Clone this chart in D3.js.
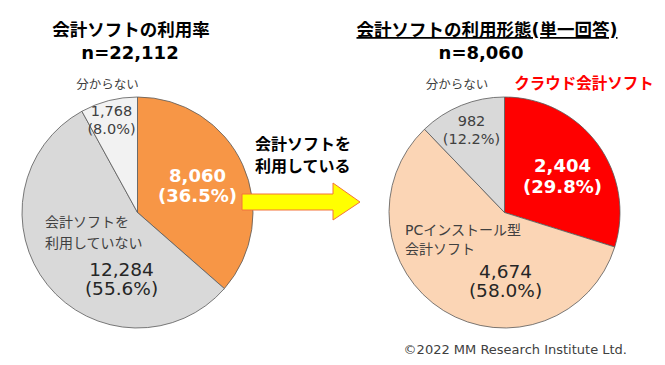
<!DOCTYPE html>
<html>
<head>
<meta charset="utf-8">
<script src="https://cdn.jsdelivr.net/npm/d3@7"></script>
<style>
  body { margin: 0; background: #fff; }
  svg text { font-family: "DejaVu Sans", "Noto Sans CJK JP", sans-serif; }
</style>
</head>
<body>
<svg id="chart" width="665" height="365"></svg>
<script>
// left pie: overall usage
var usageNames = ['利用している', '会計ソフトを利用していない', '分からない']
var usageValues = [8060, 12284, 1768]
var usageColors = ['#F79646', '#D9D9D9', '#F2F2F2']

// right pie: type of software used
var typeNames = ['クラウド会計ソフト', 'PCインストール型会計ソフト', '分からない']
var typeValues = [2404, 4674, 982]
var typeColors = ['#FF0000', '#FBD5B5', '#D9D9D9']

var svg = d3.select('#chart')

var pie = d3.pie().sort(null).value(d => d)
var radius = 115.5

function fmt(v, total) {
    return [d3.format(',')(v), '(' + d3.format('.1f')(v / total * 100) + '%)']
}

function drawPie(cx, cy, values, colors, labels) {
    var total = d3.sum(values)
    var g = svg.append('g')
        .attr('transform', 'translate(' + cx + ',' + cy + ')')
    var arc = d3.arc().innerRadius(0).outerRadius(radius)
    g.selectAll('path')
        .data(pie(values))
        .enter()
        .append('path')
        .attr('d', arc)
        .style('fill', (d, i) => colors[i])
        .style('stroke', '#595959')
        .style('stroke-width', 0.8)

    // value labels, placed per slice
    labels.forEach((l, i) => {
        var lines = fmt(values[i], total)
        lines.forEach((t, j) => {
            g.append('text')
                .attr('x', l.x)
                .attr('y', l.y + j * l.gap)
                .attr('text-anchor', 'middle')
                .style('font-size', l.size + 'px')
                .style('font-weight', l.bold ? 'bold' : 'normal')
                .style('fill', l.color)
                .text(t)
        })
    })
    return g
}

function addText(x, y, str, opts) {
    opts = opts || {}
    return svg.append('text')
        .attr('x', x)
        .attr('y', y)
        .attr('text-anchor', opts.anchor || 'start')
        .style('font-size', (opts.size || 14) + 'px')
        .style('font-weight', opts.bold ? 'bold' : 'normal')
        .style('fill', opts.color || '#262626')
        .text(str)
}

var lcx = 137.5, lcy = 212.5
var rcx = 504.5, rcy = 212.5

drawPie(lcx, lcy, usageValues, usageColors, [
    {x: 60, y: -31, gap: 20, size: 18, bold: true, color: '#fff'},
    {x: -16, y: 63, gap: 19, size: 18.5, bold: false, color: '#262626'},
    {x: -26, y: -97, gap: 18, size: 14.5, bold: false, color: '#404040'}
])

drawPie(rcx, rcy, typeValues, typeColors, [
    {x: 58, y: -41, gap: 21, size: 18, bold: true, color: '#fff'},
    {x: 1, y: 65, gap: 19, size: 18.5, bold: false, color: '#262626'},
    {x: -33, y: -87, gap: 18, size: 14.5, bold: false, color: '#404040'}
])

// category names
addText(lcx - 30, 89, '分からない', {anchor: 'middle', size: 12.5, color: '#404040'})
addText(45, 227, '会計ソフトを', {size: 14, color: '#404040'})
addText(45, 248, '利用していない', {size: 14, color: '#404040'})

addText(457, 89, '分からない', {anchor: 'middle', size: 12.5, color: '#404040'})
addText(584, 89, 'クラウド会計ソフト', {anchor: 'middle', size: 15.5, bold: true, color: '#FF0000'})
addText(405, 235, 'PCインストール型', {size: 14, color: '#404040'})
addText(405, 254, '会計ソフト', {size: 14, color: '#404040'})

// titles
addText(131, 36, '会計ソフトの利用率', {anchor: 'middle', size: 17.5, bold: true, color: '#000'})
addText(130, 59, 'n=' + d3.format(',')(d3.sum(usageValues)), {anchor: 'middle', size: 18, bold: true, color: '#000'})
addText(487, 36, '会計ソフトの利用形態(単一回答)', {anchor: 'middle', size: 17.5, bold: true, color: '#000'})
    .style('text-decoration', 'underline')
addText(481, 59, 'n=' + d3.format(',')(d3.sum(typeValues)), {anchor: 'middle', size: 18, bold: true, color: '#000'})

// arrow between the pies
var arrowPts = [[242, 194], [333, 194], [333, 183], [360, 202], [333, 220], [333, 210], [242, 210]]
svg.append('path')
    .attr('d', d3.line()(arrowPts) + 'Z')
    .style('fill', '#FFFF00')
    .style('stroke', '#F4733B')
    .style('stroke-width', 1)
addText(255, 150, '会計ソフトを', {size: 16, bold: true, color: '#000'})
addText(255, 172, '利用している', {size: 16, bold: true, color: '#000'})

addText(627, 354, '©2022 MM Research Institute Ltd.', {anchor: 'end', size: 13, color: '#404040'})
</script>
</body>
</html>
